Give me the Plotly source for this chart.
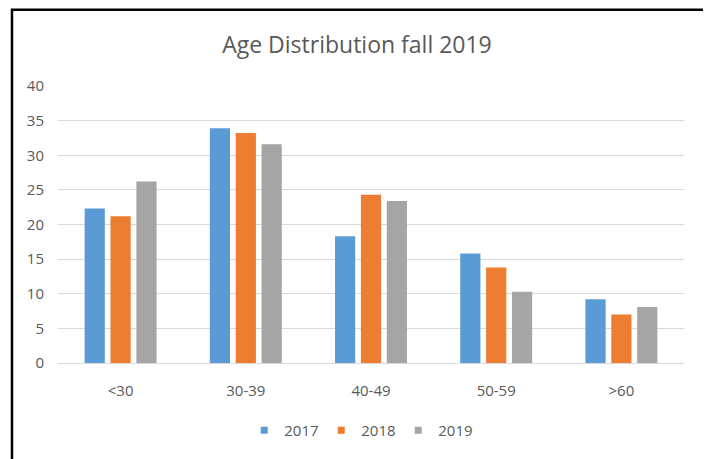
import plotly.graph_objects as go

categories = ["<30", "30-39", "40-49", "50-59", ">60"]
series_names = ["2017", "2018", "2019"]
values_2017 = [22.3, 33.9, 18.3, 15.8, 9.2]
values_2018 = [21.2, 33.2, 24.3, 13.8, 7.0]
values_2019 = [26.2, 31.6, 23.4, 10.3, 8.1]
y_ticks = [0, 5, 10, 15, 20, 25, 30, 35, 40]

colors = ["#5B9BD5", "#ED7D31", "#A5A5A5"]
font_family = "Open Sans, Liberation Sans, sans-serif"
text_color = "#595959"

fig = go.Figure()
for name, vals, col in zip(series_names, [values_2017, values_2018, values_2019], colors):
    fig.add_trace(go.Bar(x=categories, y=vals, name=name, marker_color=col,
                         marker_line_width=0, showlegend=False))
# legend-only entries with small square swatches
for name, col in zip(series_names, colors):
    fig.add_trace(go.Scatter(x=[None], y=[None], mode="markers", name=name,
                             marker=dict(symbol="square", size=7, color=col)))

fig.update_layout(
    width=703, height=451,
    margin=dict(l=50, r=27, t=78, b=94),
    paper_bgcolor="white", plot_bgcolor="white",
    barmode="group", bargap=0.38, bargroupgap=0.22,
    font=dict(family=font_family, color=text_color, size=15),
    title=dict(text="Age Distribution fall 2019", x=0.4964, xref="container",
               xanchor="center", y=0.918, yref="container", yanchor="middle",
               font=dict(size=23, color=text_color, family=font_family)),
    showlegend=True,
    legend=dict(orientation="h", x=0.482, xanchor="center", y=-0.244, yanchor="middle",
                font=dict(size=15, color=text_color), itemwidth=30, entrywidth=32,
                traceorder="normal"),
    xaxis=dict(showgrid=False, showline=True, linecolor="#D9D9D9", linewidth=1,
               ticks="", ticklabelstandoff=14, tickfont=dict(size=15, color=text_color)),
    yaxis=dict(range=[0, 40], tickvals=y_ticks, showgrid=True, gridcolor="#D9D9D9",
               gridwidth=1, zeroline=False, showline=False, ticks="",
               ticklabelstandoff=13, tickfont=dict(size=15, color=text_color)),
    shapes=[dict(type="rect", xref="paper", yref="paper",
                 x0=-0.0735, x1=1.0335, y0=-0.45, y1=1.2753,
                 line=dict(color="black", width=2.5), fillcolor="rgba(0,0,0,0)")],
)

fig.write_html("out.html")
